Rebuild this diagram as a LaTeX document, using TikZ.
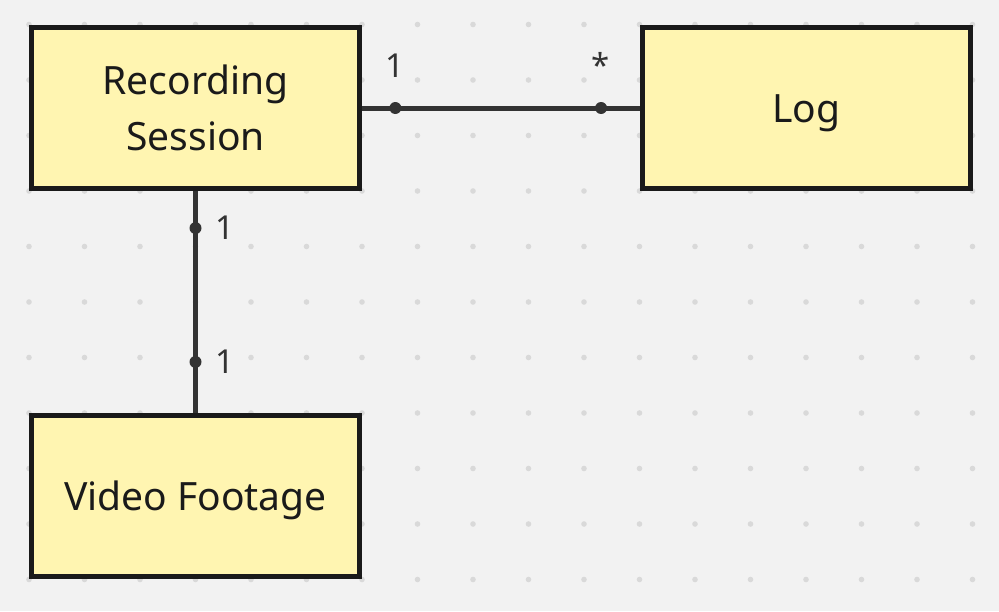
\documentclass[tikz,border=0pt]{standalone}
\usepackage{fontspec}
\setmainfont{Noto Sans}
\usetikzlibrary{positioning}
\definecolor{Canvas}{HTML}{F2F2F2}
\definecolor{GridDot}{HTML}{D9D9D9}
\definecolor{Pale}{HTML}{FFF5B1}
\definecolor{Ink}{HTML}{1A1A1A}
\definecolor{Wire}{HTML}{333333}

\begin{document}
\begin{tikzpicture}[x=1pt, y=-1pt]
\tikzset{entity/.style={draw=Ink, line width=5pt, fill=Pale, minimum width=328pt, minimum height=161pt, align=center, text=Ink, font=\fontsize{39}{56}\selectfont}, single/.style={text height=28pt, text depth=0pt}, link/.style={draw=Wire, line width=5pt}, mdot/.style={circle, fill=Wire, inner sep=0pt, minimum size=12pt}, mult/.style={text=Wire, inner sep=0pt, font=\fontsize{33}{38}\selectfont}}
\fill[Canvas] (0,0) rectangle (999,611); \useasboundingbox (0,0) rectangle (999,611);
\foreach \i in {0,...,17} \foreach \j in {0,...,10} \fill[GridDot] (29+55.5*\i,24.5+55.5*\j) circle (2.8);
\node[entity] (session) at (195.5,108) {Recording\\Session};
\node[entity, single, right=278pt of session] (log) {Log};
\node[entity, single, below=222pt of session] (footage) {Video Footage};
\draw[link] (session.east) -- node[mdot, pos=.12, label={[mult, label distance=20pt]above:1}] (m1) {} node[mdot, pos=.86, label={[mult, label distance=20pt]above:*}] (m2) {} (log.west);
\draw[link] (session.south) -- node[mdot, pos=.167, label={[mult, label distance=9pt]right:1}] (m3) {} node[mdot, pos=.77, label={[mult, label distance=9pt]right:1}] (m4) {} (footage.north);
\end{tikzpicture}
\end{document}
